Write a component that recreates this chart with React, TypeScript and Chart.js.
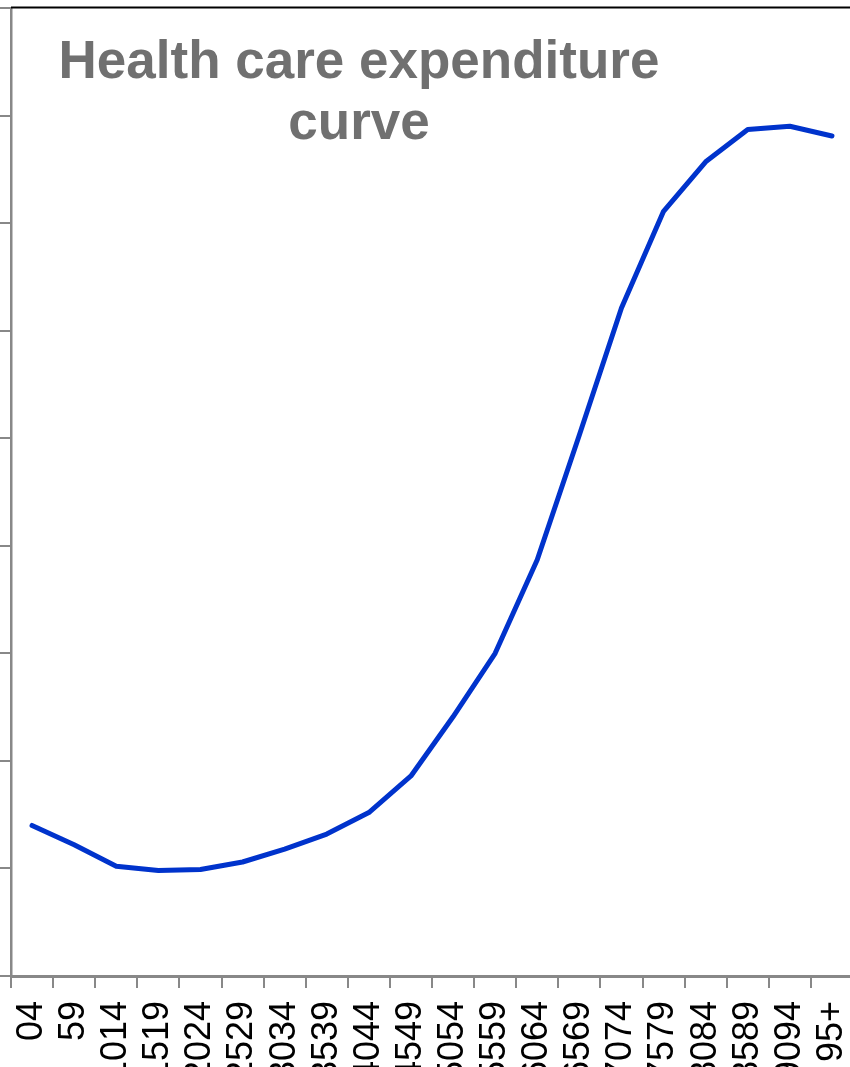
import React, { useEffect, useRef } from "react";
import { Chart, registerables } from "chart.js";

Chart.register(...registerables);

// Age bands along the x axis
const ageGroups = [
  "04", "59", "1014", "1519", "2024", "2529", "3034", "3539", "4044", "4549",
  "5054", "5559", "6064", "6569", "7074", "7579", "8084", "8589", "9094", "95+",
];

// Relative health care expenditure per age band
const expenditure = [
  1.40, 1.22, 1.02, 0.98, 0.99, 1.06, 1.18, 1.32, 1.52, 1.86,
  2.41, 3.00, 3.87, 5.03, 6.21, 7.11, 7.57, 7.87, 7.90, 7.81,
];

const yMin = 0;
const yMax = 9;
const yStep = 1;

const titleLines = ["Health care expenditure", "curve"];

const CANVAS_W = 885;
const CANVAS_H = 1130;
const PLOT_RIGHT = 853;
const PLOT_BOTTOM = 976;

const titlePlugin = {
  id: "insideTitle",
  afterDraw(chart: any) {
    const { ctx, chartArea } = chart;
    ctx.save();
    // heavy rule along the top of the plot
    ctx.strokeStyle = "#000";
    ctx.lineWidth = 2;
    ctx.beginPath();
    ctx.moveTo(chartArea.left, chartArea.top - 0.5);
    ctx.lineTo(chart.width, chartArea.top - 0.5);
    ctx.stroke();
    // title text
    ctx.fillStyle = "#707070";
    ctx.font = 'bold 53px "Liberation Sans", Arial, sans-serif';
    ctx.textAlign = "center";
    ctx.textBaseline = "alphabetic";
    ctx.fillText(titleLines[0], 359, 78);
    ctx.fillText(titleLines[1], 359, 139);
    ctx.restore();
  },
};

export default function App() {
  const canvasRef = useRef<HTMLCanvasElement | null>(null);

  useEffect(() => {
    if (!canvasRef.current) return;
    const chart = new Chart(canvasRef.current, {
      type: "line",
      data: {
        labels: ageGroups,
        datasets: [
          {
            data: expenditure,
            borderColor: "#0033cc",
            borderWidth: 5,
            pointRadius: 0,
            tension: 0,
            fill: false,
            borderCapStyle: "round",
            borderJoinStyle: "round",
          },
        ],
      },
      options: {
        animation: false,
        responsive: false,
        devicePixelRatio: 1,
        layout: { padding: { top: 8, left: 0, right: CANVAS_W - PLOT_RIGHT, bottom: 0 } },
        plugins: {
          legend: { display: false },
          tooltip: { enabled: false },
          title: { display: false },
        },
        scales: {
          x: {
            offset: true,
            grid: {
              offset: true,
              drawOnChartArea: false,
              drawTicks: true,
              tickLength: 12,
              color: "#888",
              lineWidth: 2,
            },
            border: { color: "#888", width: 3 },
            ticks: {
              autoSkip: false,
              minRotation: 90,
              maxRotation: 90,
              padding: 13,
              color: "#000",
              font: { family: '"Liberation Sans", Arial, sans-serif', size: 36 },
            },
            afterFit(scale: any) {
              scale.height = CANVAS_H - PLOT_BOTTOM;
              scale.paddingLeft = 0;
              scale.paddingRight = 0;
            },
          },
          y: {
            min: yMin,
            max: yMax,
            ticks: { display: false, stepSize: yStep },
            grid: {
              drawOnChartArea: false,
              drawTicks: true,
              tickLength: 11,
              color: "#888",
              lineWidth: 2,
            },
            border: { color: "#888", width: 2.5 },
            afterFit(scale: any) {
              scale.width = 11;
              scale.paddingTop = 0;
              scale.paddingBottom = 0;
            },
          },
        },
      },
      plugins: [titlePlugin],
    });
    return () => chart.destroy();
  }, []);

  return (
    <div
      style={{
        position: "fixed",
        left: 0,
        top: 0,
        width: 850,
        height: 1067,
        overflow: "hidden",
        background: "#fff",
      }}
    >
      <canvas
        ref={canvasRef}
        width={CANVAS_W}
        height={CANVAS_H}
        style={{ display: "block", width: CANVAS_W, height: CANVAS_H }}
      />
    </div>
  );
}
